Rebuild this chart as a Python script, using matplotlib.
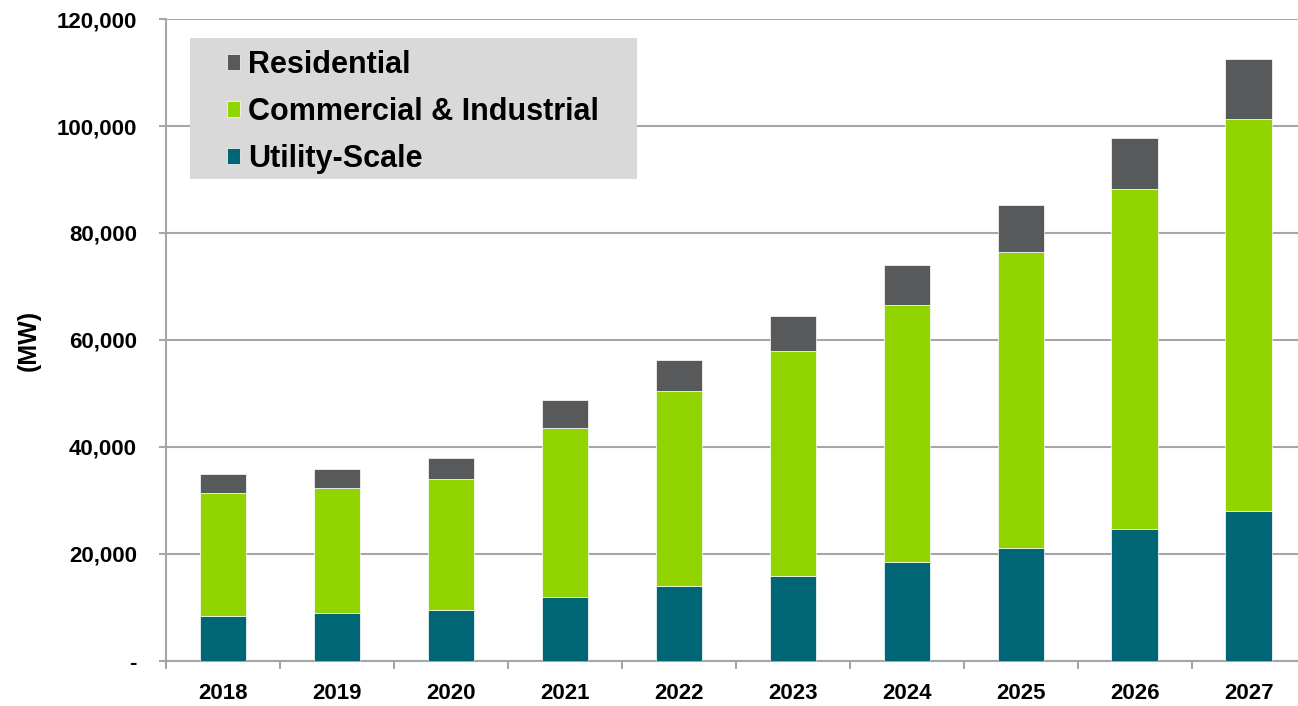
import numpy as np
import matplotlib.pyplot as plt
from matplotlib.patches import Rectangle
from matplotlib.ticker import FuncFormatter

plt.rcParams['font.family'] = ['Liberation Sans', 'DejaVu Sans']
plt.rcParams['font.weight'] = 'bold'

years = ["2018", "2019", "2020", "2021", "2022", "2023", "2024", "2025", "2026", "2027"]
utility = [8400, 9000, 9500, 12000, 14000, 15900, 18500, 21100, 24700, 28000]
commercial = [23000, 23300, 24500, 31600, 36500, 42000, 48000, 55300, 63500, 73300]
residential = [3600, 3600, 3900, 5200, 5800, 6600, 7500, 8800, 9600, 11200]

c_res = "#58595b"
c_ci = "#92d400"
c_util = "#006675"

fig = plt.figure(figsize=(12.98, 7.06), dpi=100)
ax = fig.add_axes([0.128, 0.064, 0.878, 0.909])

x = np.arange(len(years))
w = 0.41
util = np.array(utility)
ci = np.array(commercial)
res = np.array(residential)
ax.bar(x, util, w, color=c_util, edgecolor="white", linewidth=0.5, label="Utility-Scale", zorder=3)
ax.bar(x, ci, w, bottom=util, color=c_ci, edgecolor="white", linewidth=0.5, label="Commercial & Industrial", zorder=3)
ax.bar(x, res, w, bottom=util + ci, color=c_res, edgecolor="white", linewidth=0.5, label="Residential", zorder=3)

ax.set_ylim(0, 120000)
ax.set_xlim(-0.5, len(years) - 0.5)
ax.set_yticks(np.arange(0, 120001, 20000))
ax.yaxis.set_major_formatter(FuncFormatter(lambda v, p: "-" if v == 0 else f"{int(v):,}"))
ax.set_xticks(x)
ax.set_xticklabels(years)
ax.set_xticks(np.arange(-0.5, len(years), 1), minor=True)
ax.tick_params(axis="x", which="major", length=0, pad=16, labelsize=16)
ax.tick_params(axis="x", which="minor", length=6, color="#a6a6a6", width=1.5)
ax.tick_params(axis="y", length=5, color="#a6a6a6", width=1.5, labelsize=16, pad=16)

ax.grid(axis="y", color="#a6a6a6", linewidth=1.5, zorder=0)
for s in ["top", "right"]:
    ax.spines[s].set_visible(False)
for s in ["left", "bottom"]:
    ax.spines[s].set_color("#a6a6a6")
    ax.spines[s].set_linewidth(1.5)

ax.set_ylabel("(MW)", fontsize=18, fontweight="bold")
ax.yaxis.set_label_coords(-0.11, 0.5)

# grey legend panel
ax.add_patch(Rectangle((0.021, 0.751), 0.392, 0.219, transform=ax.transAxes,
                       facecolor="#d9d9d9", edgecolor="none", zorder=4))

h, l = ax.get_legend_handles_labels()
leg = ax.legend(h[::-1], l[::-1], loc="upper left", bbox_to_anchor=(0.0535, 0.952),
                fontsize=22, frameon=False, handlelength=0.43,
                handleheight=0.43, handletextpad=0.26, labelspacing=0.56,
                borderpad=0, borderaxespad=0)
leg.set_zorder(5)

fig.savefig("out.png", dpi=100)
